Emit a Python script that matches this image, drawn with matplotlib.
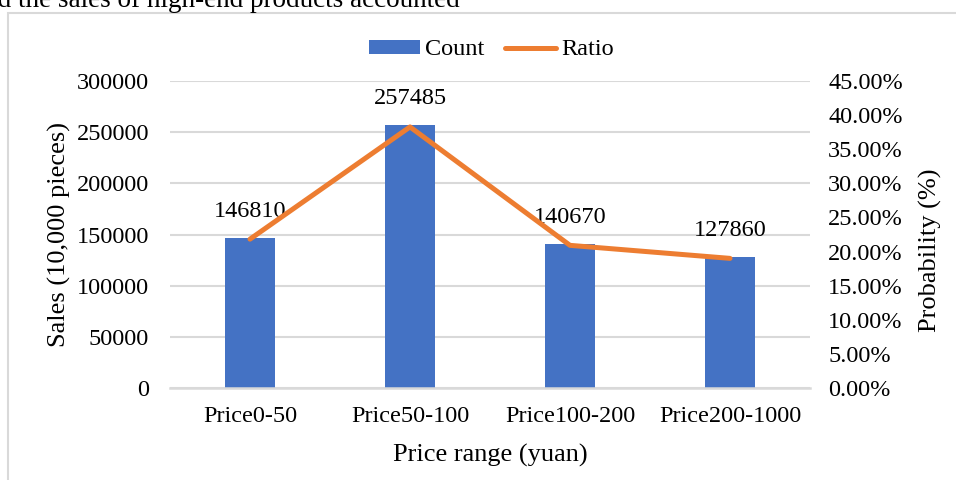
import matplotlib.pyplot as plt
import matplotlib.patches as mpatches
from matplotlib.lines import Line2D
from matplotlib.ticker import FuncFormatter

plt.rcParams["font.family"] = ["Liberation Serif", "DejaVu Serif"]

# Sales per price range and share of total sales
categories = ["Price0-50", "Price50-100", "Price100-200", "Price200-1000"]
counts = [146810, 257485, 140670, 127860]
ratios = [21.82, 38.27, 20.91, 19.00]  # percent

BLUE = "#4472C4"
ORANGE = "#ED7D31"
GRID = "#D9D9D9"
FS = 17.5
LFS = 19

fig = plt.figure(figsize=(9.56, 4.8), dpi=100)
ax = fig.add_axes([170 / 956, 92 / 480, 640 / 956, 307 / 480])

x = list(range(len(categories)))
ax.bar(x, counts, width=0.3125, color=BLUE, zorder=2)
ax.set_xlim(-0.5, len(categories) - 0.5)
ax.set_ylim(0, 300000)
ax.set_yticks(range(0, 300001, 50000))
ax.yaxis.grid(True, color=GRID, linewidth=1.5, zorder=0)
ax.set_axisbelow(True)
for side in ("top", "right", "left"):
    ax.spines[side].set_visible(False)
ax.spines["bottom"].set_color(GRID)
ax.spines["bottom"].set_linewidth(1.8)
ax.tick_params(axis="both", length=0, labelsize=FS)
ax.tick_params(axis="y", pad=15)
ax.tick_params(axis="x", pad=13)
ax.set_xticks(x)
ax.set_xticklabels(categories)
ax.set_xlabel("Price range (yuan)", fontsize=LFS, labelpad=12)
ax.set_ylabel("Sales (10,000 pieces)", fontsize=LFS, labelpad=4)

# Value labels above the bars
for xi, val in zip(x, counts):
    ax.annotate(str(val), (xi, val), xytext=(0, 19), textcoords="offset points",
                ha="center", va="center", fontsize=FS, zorder=4)

# Ratio line on the secondary axis
ax2 = ax.twinx()
ax2.plot(x, ratios, color=ORANGE, linewidth=3.6, solid_capstyle="round", zorder=3)
ax2.set_ylim(0, 45)
ax2.set_yticks(range(0, 46, 5))
ax2.yaxis.set_major_formatter(FuncFormatter(lambda v, _: f"{v:.2f}%"))
for side in ("top", "right", "left", "bottom"):
    ax2.spines[side].set_visible(False)
ax2.tick_params(axis="y", length=0, labelsize=FS, pad=13)
ax2.set_ylabel("Probability (%)", fontsize=LFS)
ax2.yaxis.set_label_coords(1.17, 0.45)

handles = [
    mpatches.Rectangle((0, 0), 1, 1, facecolor=BLUE),
    Line2D([0], [0], color=ORANGE, linewidth=3.6, solid_capstyle="round"),
]
fig.legend(handles, ["Count", "Ratio"], loc="center", ncol=2,
           bbox_to_anchor=(0.514, 0.896), frameon=False, fontsize=FS,
           handlelength=2.1, handleheight=0.5, handletextpad=0.2,
           columnspacing=0.85)

# Chart frame and the surrounding document line above it
frame = mpatches.Rectangle((7.5 / 956, -0.05), 1.1, (480 - 12.5) / 480 + 0.05,
                           transform=fig.transFigure, fill=False,
                           edgecolor=GRID, linewidth=1.5)
fig.add_artist(frame)
fig.text(460 / 956, (480 - 7) / 480, "and the sales of high-end products accounted",
         ha="right", va="baseline", fontsize=LFS + 0.5)

fig.savefig("out.png", dpi=100)
